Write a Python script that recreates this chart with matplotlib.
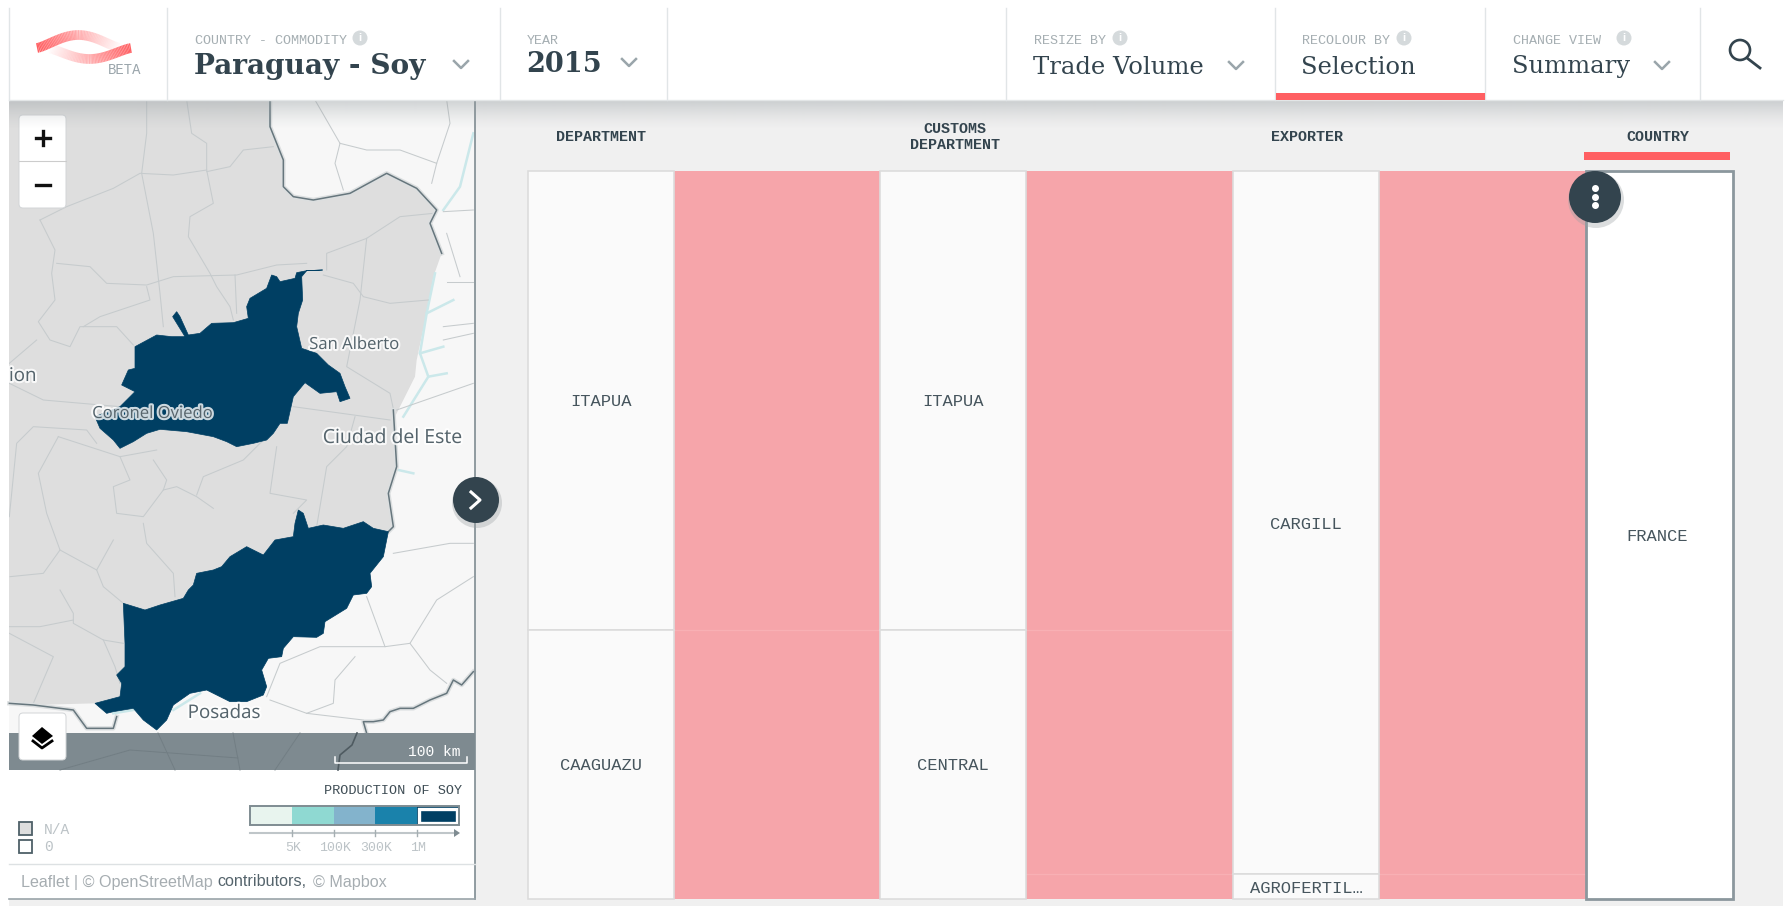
import numpy as np
import matplotlib
matplotlib.use('Agg')
import matplotlib.pyplot as plt
import matplotlib.patheffects as pe
from matplotlib.collections import LineCollection
from matplotlib.colors import to_rgb
from matplotlib.patches import Circle, FancyBboxPatch, Polygon, Rectangle

# sankey data, share of the trade volume
column_names = ['DEPARTMENT', 'CUSTOMS\nDEPARTMENT', 'EXPORTER', 'COUNTRY']
department_names = ['ITAPUA', 'CAAGUAZU']
department_values = [0.63, 0.37]
customs_names = ['ITAPUA', 'CENTRAL']
customs_values = [0.63, 0.37]
exporter_names = ['CARGILL', 'AGROFERTIL…']
exporter_values = [0.966, 0.034]
country_names = ['FRANCE']
country_values = [1.0]

# legend
legend_colors = ['#e8f4ee', '#8fd9d2', '#83b3cc', '#1a82ab', '#003f63']
legend_ticks = ['5K', '100K', '300K', '1M']

north_shape = [(968,510),(920,512),(905,530),(908,600),(895,640),(890,680),(905,745),(950,760),(985,795),(1020,820),
               (1035,860),(1050,895),(1020,905),(1010,875),(960,880),(915,848),(880,890),(862,970),(840,970),(820,1000),
               (800,1020),(760,1030),(710,1040),(680,1025),(640,1010),(560,995),(480,988),(440,1000),(400,1025),
               (360,1045),(340,1020),(300,985),(285,950),(360,920),(405,875),(365,855),(385,810),(405,805),
               (405,740),(470,705),(515,710),(555,710),(518,650),(530,635),(540,650),(565,705),(600,700),
               (635,670),(700,668),(745,655),(740,620),(750,595),(800,565),(815,525),(830,530),(840,545),
               (885,535),(890,518),(920,512)]
south_shape = [(370,610),(435,630),(480,615),(550,595),(565,570),(580,555),(590,520),(640,510),(665,500),(690,470),(740,440),
               (790,465),(825,420),(880,410),(885,370),(895,330),(910,340),(925,385),(970,375),(1030,385),(1090,365),
               (1120,385),(1165,395),(1150,470),(1110,520),(1115,560),(1100,580),(1060,585),(1040,625),(975,665),
               (970,700),(950,712),(880,710),(850,745),(845,770),(805,775),(785,810),(800,860),(790,885),(740,905),
               (690,905),(620,870),(570,880),(520,915),(500,960),(470,990),(430,960),(400,925),(340,935),(320,940),
               (285,910),(360,890),(365,850),(350,825),(375,800),(375,730)]
# country edge, top crop then lower crop
land_north = [(810,0),(810,80),(850,180),(850,260),(880,290),(940,300),(1050,280),(1160,220),(1250,265),(1310,330),
              (1290,370),(1325,460),(1300,530),(1280,640),(1250,780),(1245,830),(1185,950)]
land_south = [(1180,30),(1190,200),(1165,280),(1180,380),(1165,395),(1150,470),(1110,520),(1115,560),(1100,580),
              (1060,585),(1040,625),(975,665),(970,700),(950,712),(880,710),(850,745),(845,770),(805,775),(785,810),
              (800,860),(790,885),(740,905),(690,905),(620,870),(570,880),(520,915),(500,960),(470,990),(430,960),
              (400,925),(340,935),(320,940),(285,910),(100,915),(28,905)]
lines_top = [[(120,360),(165,450),(155,520),(165,600),(115,665),(150,720),(210,740),(240,680),(350,680),(400,735)],
             [(120,360),(200,320),(340,265),(420,220),(520,225),(620,210)],
             [(425,220),(460,400),(480,580),(490,680)],
             [(440,0),(440,100),(425,220)],
             [(560,0),(575,100),(620,130),(620,210),(640,310),(570,350),(565,410),(630,520),(650,560),(690,620),(700,660)],
             [(620,215),(690,200),(730,150),(820,140)],
             [(170,490),(270,500),(320,550),(440,555),(520,530),(710,525),(830,495),(920,490)],
             [(440,560),(450,600),(300,650),(250,680)],
             [(705,525),(710,640)],
             [(980,510),(980,460),(1100,415),(1200,350),(1300,340)],
             [(1100,415),(1080,600),(1040,800),(1170,880),(1185,950)],
             [(970,525),(1060,550),(1090,590),(1170,610),(1285,600)],
             [(28,790),(110,720)],
             [(28,850),(130,900),(360,920)],
             [(945,0),(1020,130),(1005,190),(1030,270)],
             [(1020,130),(1100,150),(1200,150),(1310,190),(1350,70),(1340,0)],
             [(1310,190),(1295,250)],
             [(1330,335),(1420,330)],
             [(1340,545),(1420,545)],
             [(1340,400),(1380,530)],
             [(1330,680),(1420,670)],
             [(1330,720),(1420,700)],
             [(1190,930),(1420,850)]]
lines_low = [[(28,350),(50,130),(100,80),(260,90),(290,130)],
             [(175,110),(115,220),(140,340),(180,450),(130,520),(30,530)],
             [(175,110),(360,170),(470,150)],
             [(360,170),(390,240),(340,260),(350,340),(430,350),(490,270),(500,240),(460,180)],
             [(490,270),(530,260),(590,290),(640,325)],
             [(590,285),(610,230),(730,180),(790,120)],
             [(430,370),(440,430),(520,520),(525,590)],
             [(340,420),(290,510),(310,560),(370,610)],
             [(180,450),(290,510)],
             [(180,570),(220,640),(220,670),(310,720),(370,730)],
             [(28,680),(120,680),(220,660)],
             [(28,700),(160,770),(100,910)],
             [(310,720),(345,800),(360,850)],
             [(880,20),(1170,60)],
             [(1065,50),(1040,140),(980,200),(950,380)],
             [(830,140),(810,280),(920,300),(880,340)],
             [(1180,460),(1350,430),(1420,430)],
             [(1100,590),(1155,740),(1230,730),(1310,600),(1420,530)],
             [(1155,740),(960,740),(840,790),(800,890)],
             [(1230,730),(1290,810),(1340,850)],
             [(1065,770),(1005,840),(1000,910),(920,940)],
             [(810,900),(920,940),(1090,960)]]
river_dark = [(1100,1000),(1090,965),(1120,965),(1150,960),(1170,935),(1200,925),(1240,925),(1290,900),(1340,880),(1360,840),(1385,855),(1420,815)]
river_west = [(28,910),(100,915),(220,930),(260,985),(340,985),(350,950)]
rivers_top = [[(1420,100),(1380,260),(1330,330)],
              [(1305,520),(1280,640),(1260,760),(1285,830),(1210,950)],
              [(1280,640),(1360,600)],[(1260,760),(1330,740)],[(1285,830),(1340,820)]]
rivers_low = [[(1195,210),(1240,220)],[(340,940),(400,930)],[(520,930),(600,880)]]

ink = '#33444e'
pink = '#f6a5aa'
red = '#ff5f62'
page = '#f0f0f0'
mono = 'Liberation Mono'
serif = 'DejaVu Serif'
sans = 'Liberation Sans'


def crop(pts, y0):
    return [(x / 3, y0 + y / 3) for x, y in pts]


fig = plt.figure(figsize=(17.88, 9.06), dpi=100, facecolor='white')
ax = fig.add_axes([0, 0, 1, 1])
ax.set_xlim(0, 1788)
ax.set_ylim(906, 0)
ax.axis('off')

# page and header
ax.add_patch(Rectangle((9, 100), 1774, 806, fc=page, ec='none', zorder=0))

# map
map_clip = Rectangle((9, 100), 466, 670, transform=ax.transData)
ax.add_patch(Rectangle((9, 100), 466, 670, fc='#f7f7f7', ec='none', zorder=1))
land = crop(land_north, 100) + crop(land_south, 400)
ax.add_patch(Polygon([(9, 100)] + land + [(9, 702)], fc='#dedede', ec='none', zorder=2))
for group, y0 in ((rivers_top, 100), (rivers_low, 400)):
    for pts in group:
        p = np.array(crop(pts, y0))
        l, = ax.plot(*p.T, color='#cbe8ea', lw=1.8, zorder=2.5)
        l.set_clip_path(map_clip)
for group, y0 in ((lines_top, 100), (lines_low, 400)):
    for pts in group:
        p = np.array(crop(pts, y0))
        l, = ax.plot(*p.T, color='#c6cbcd', lw=0.75, zorder=3)
        l.set_clip_path(map_clip)
for pts, y0 in ((land_north[:12], 100), (land_south[:5], 400), (river_dark, 400), (river_west, 400)):
    p = np.array(crop(pts, y0))
    ax.plot(*p.T, color='#66767d', lw=1.1, zorder=3.2,
            path_effects=[pe.withStroke(linewidth=3.2, foreground='#dcdfe0')])
for shape, y0 in ((north_shape, 100), (south_shape, 400)):
    ax.add_patch(Polygon(crop(shape, y0), fc='#003f63', ec='#003f63', lw=0.5, zorder=4))

# place names
halo = [pe.withStroke(linewidth=3, foreground='white', alpha=0.8)]
ax.text(354, 345, 'San Alberto', family='Open Sans', fontsize=12, color='#55646c', ha='center', va='center', zorder=5, path_effects=halo)
ax.text(152, 414, 'Coronel Oviedo', family='Open Sans', fontsize=12, color='#55646c', ha='center', va='center', zorder=5, path_effects=halo)
ax.text(393, 438, 'Ciudad del Este', family='Open Sans', fontsize=14, color='#55646c', ha='center', va='center', zorder=5, path_effects=halo)
ax.text(224, 713, 'Posadas', family='Open Sans', fontsize=13.5, color='#55646c', ha='center', va='center', zorder=5, path_effects=halo)
ax.text(9, 376, 'ion', family='Open Sans', fontsize=13.5, color='#55646c', ha='left', va='center', zorder=5, path_effects=halo)

# band under the map
ax.add_patch(Rectangle((9, 733), 466, 37, fc='#7e8a90', ec='none', zorder=6))
for pts in ([(158,733),(175,770)], [(233,733),(240,770)], [(300,733),(275,770)], [(60,770),(130,750),(238,758)]):
    ax.plot(*np.array(pts).T, color='#727e84', lw=0.7, zorder=6.1)
ax.plot([357, 352, 340, 338], [733, 745, 755, 770], color='#4f5b61', lw=1.2, zorder=6.1)
ax.plot([335, 335, 467, 467], [757, 763, 763, 757], color='white', lw=1.1, zorder=6.2)
ax.text(461, 752, '100 km', family=mono, fontsize=10.5, color='white', ha='right', va='center', zorder=6.2)


def button(x, y, w, h):
    ax.add_patch(FancyBboxPatch((x + 3, y + 3), w - 6, h - 6, boxstyle='round,pad=3,rounding_size=4',
                                fc='white', ec='#d2d5d7', lw=0.7, zorder=7))


button(19, 115, 47, 93)
ax.plot([19, 66], [161, 161], color='#cccccc', lw=0.8, zorder=7.1)
ax.plot([36, 50], [138, 138], color='#111111', lw=2.4, zorder=7.1)
ax.plot([43, 43], [131, 145], color='#111111', lw=2.4, zorder=7.1)
ax.plot([36, 50], [185, 185], color='#111111', lw=2.4, zorder=7.1)
button(19, 713, 47, 47)
ax.add_patch(Polygon([(42, 727), (53, 736), (42, 744), (32, 736)], fc='black', ec='none', zorder=7.1))
ax.plot([33, 42, 52], [741, 748, 741], color='black', lw=2, zorder=7.1)

# legend box
ax.add_patch(Rectangle((9, 770), 466, 129, fc='white', ec='none', zorder=6))
ax.plot([475, 475], [100, 899], color='#7f8c92', lw=1.2, zorder=6.5)
ax.plot([9, 475], [899, 899], color='#9aa4a9', lw=1.2, zorder=6.5)
ax.plot([9, 475], [864, 864], color='#dde1e3', lw=1, zorder=6.5)
ax.text(462, 791, 'PRODUCTION OF SOY', family=mono, fontsize=9.7, color='#3f4d55', ha='right', va='center', zorder=7)
edges = np.linspace(250, 459, len(legend_colors) + 1)
for i, c in enumerate(legend_colors):
    ax.add_patch(Rectangle((edges[i], 806), edges[i + 1] - edges[i], 19, fc=c, ec='none', zorder=7))
ax.add_patch(Rectangle((250, 806), 209, 19, fc='none', ec='#7f8c92', lw=1.4, zorder=7.2))
ax.add_patch(Rectangle((edges[4] + 1.5, 808.5), edges[5] - edges[4] - 4, 14, fc='none', ec='white', lw=2.4, zorder=7.1))
ax.plot([250, 456], [833, 833], color='#bfc6c9', lw=1.5, zorder=7)
ax.add_patch(Polygon([(454, 829), (460, 833), (454, 837)], fc='#7f8c92', ec='none', zorder=7))
for i, t in enumerate(legend_ticks):
    x = edges[i + 1]
    ax.plot([x, x], [830, 836], color='#a5aeb2', lw=1, zorder=7)
    ax.text(x + 1, 848, t, family=mono, fontsize=9.5, color='#bcc3c7', ha='center', va='center', zorder=7)
ax.add_patch(Rectangle((18.5, 822), 13, 13, fc='#dedede', ec='#4e6068', lw=1.3, zorder=7))
ax.add_patch(Rectangle((18.5, 840), 13, 13, fc='white', ec='#4e6068', lw=1.3, zorder=7))
ax.text(44, 830, 'N/A', family=mono, fontsize=10.5, color='#bcc3c7', ha='left', va='center', zorder=7)
ax.text(44, 847, '0', family=mono, fontsize=10.5, color='#bcc3c7', ha='left', va='center', zorder=7)
ax.text(21, 882, 'Leaflet | © OpenStreetMap', family=sans, fontsize=11.6, color='#a6adb1', ha='left', va='center', zorder=7)
ax.text(217, 882, 'contributors,', family=sans, fontsize=11.6, color='#55646c', ha='left', va='center', zorder=7)
ax.text(313, 882, '© Mapbox', family=sans, fontsize=11.6, color='#a6adb1', ha='left', va='center', zorder=7)

# header shadow over map and page
shadow = np.zeros((30, 2, 4))
shadow[..., :3] = to_rgb('#8f979b')
shadow[..., 3] = np.linspace(0.5, 0, 30)[:, None] ** 1.4
ax.imshow(shadow, extent=(9, 1783, 130, 100), aspect='auto', zorder=7.5, interpolation='bilinear')
ax.set_xlim(0, 1788)
ax.set_ylim(906, 0)

# header
ax.add_patch(Rectangle((9, 8), 1774, 92, fc='white', ec='none', zorder=8))
ax.plot([9, 1783], [100, 100], color='#e3e6e7', lw=1, zorder=8.1)
for x in (9, 167, 500, 667, 1006, 1275, 1485, 1700):
    ax.plot([x, x], [8, 100], color='#e1e5e7', lw=1, zorder=8.1)
ax.add_patch(Rectangle((1276, 93), 209, 7, fc=red, ec='none', zorder=8.2))

# logo, both ribbons fade out
t = np.linspace(0, 1, 60)
bump = np.sin(np.pi * t) ** 1.3
for xs, ys, fade in ((37 + 83 * t, 48 - 13 * bump, 1 - t),
                     (48 + 83 * t, 48 + 11 * bump, t)):
    segs = np.stack([np.column_stack([xs[:-1], ys[:-1]]), np.column_stack([xs[1:], ys[1:]])], axis=1)
    cols = [to_rgb(red) + (a,) for a in fade[:-1]]
    ax.add_collection(LineCollection(segs, colors=cols, linewidths=7, zorder=8.3, capstyle='butt'))
ax.text(125, 70, 'BETA', family=mono, fontsize=10, color='#9aa5ab', ha='center', va='center', zorder=8.3)


def selector(x, label, value, bold, chevron=None, info=None, vy=67, size=17.5, fs=9.6):
    ax.text(x, 41, label, family=mono, fontsize=fs, color='#a5aeb2', ha='left', va='center', zorder=8.3)
    ax.text(x - 1, vy, value, family=serif, fontsize=size, color=ink, weight='bold' if bold else 'normal',
            ha='left', va='center', zorder=8.3)
    if chevron:
        ax.plot([chevron - 7, chevron, chevron + 7], [vy - 5, vy + 2, vy - 5], color='#9aa5ab', lw=1.8, zorder=8.3)
    if info:
        ax.add_patch(Circle((info, 38), 7.5, fc='#d5dadc', ec='none', zorder=8.3))
        ax.text(info, 38, 'i', family=sans, fontsize=8, weight='bold', color='white', ha='center', va='center', zorder=8.4)


selector(195, 'COUNTRY - COMMODITY', 'Paraguay - Soy', True, chevron=461, info=360, vy=66, size=20.2)
selector(527, 'YEAR', '2015', True, chevron=629, vy=64, size=19.5)
selector(1034, 'RESIZE BY', 'Trade Volume', False, chevron=1236, info=1120)
selector(1302, 'RECOLOUR BY', 'Selection', False, info=1404)
selector(1513, 'CHANGE VIEW', 'Summary', False, chevron=1662, info=1624)
ax.add_patch(Circle((1740, 50), 10, fc='none', ec=ink, lw=1.9, zorder=8.3))
ax.plot([1747, 1760], [58, 68], color=ink, lw=2, zorder=8.3)

# column headings
column_centres = [601, 955, 1307, 1658]
for x, name in zip(column_centres, column_names):
    ax.text(x, 137, name, family=mono, weight='bold', fontsize=10.8, color=ink,
            ha='center', va='center', linespacing=1.2, zorder=3)
ax.add_patch(Rectangle((1584, 152), 146, 8, fc=red, ec='none', zorder=3))

# sankey, own axes: x in page pixels, y is share of volume
sx = fig.add_axes([528 / 1788, 1 - 899 / 906, (1733 - 528) / 1788, (899 - 171) / 906])
sx.set_xlim(528, 1733)
sx.set_ylim(1, 0)
sx.axis('off')
node_left = [528, 880, 1233, 1586]
node_w = 146
stacks = [(department_names, department_values), (customs_names, customs_values),
          (exporter_names, exporter_values), (country_names, country_values)]

for i in range(3):
    a = np.cumsum([0] + stacks[i][1])
    b = np.cumsum([0] + stacks[i + 1][1])
    x0 = node_left[i] + node_w
    x1 = node_left[i + 1]
    sx.fill_between([x0, x1], 0, 1, color=pink, lw=0, zorder=1)
    # faint lines where the flows meet
    for v in sorted(set(a[1:-1]) | set(b[1:-1])):
        sx.plot([x0, x1], [v, v], color='#f8b0b4', lw=0.9, zorder=1.1)

for i, (names, values) in enumerate(stacks):
    bottoms = np.cumsum([0] + values[:-1])
    last = i == len(stacks) - 1
    for name, v, b in zip(names, values, bottoms):
        sx.bar(node_left[i], v, bottom=b, width=node_w + (1 if last else 0), align='edge',
               color='white' if last else '#fafafa', edgecolor='#8b979d' if last else '#dcdcdc',
               linewidth=2 if last else 1.2, zorder=3 if last else 2, clip_on=False)
        sx.text(node_left[i] + node_w / 2 - (2 if last else 0), b + v / 2 + 0.002, name, family=mono, fontsize=12.3,
                color='#46555d', ha='center', va='center', zorder=4)

# round buttons on top of everything
ov = fig.add_axes([0, 0, 1, 1], facecolor='none')
ov.set_xlim(0, 1788)
ov.set_ylim(906, 0)
ov.axis('off')
for x, y, r in ((1595, 197, 26), (476, 500, 23)):
    ov.add_patch(Circle((x + 1, y + 3), r + 2, fc='#9aa0a3', ec='none', alpha=0.35))
    ov.add_patch(Circle((x, y), r, fc=ink, ec='none'))
ov.scatter([1595, 1595, 1595], [188, 197, 205], s=16, color='white', zorder=5)
ov.plot([471, 480, 471], [492, 500, 508], color='white', lw=2.2, zorder=5)

fig.savefig('out.png', dpi=100)
